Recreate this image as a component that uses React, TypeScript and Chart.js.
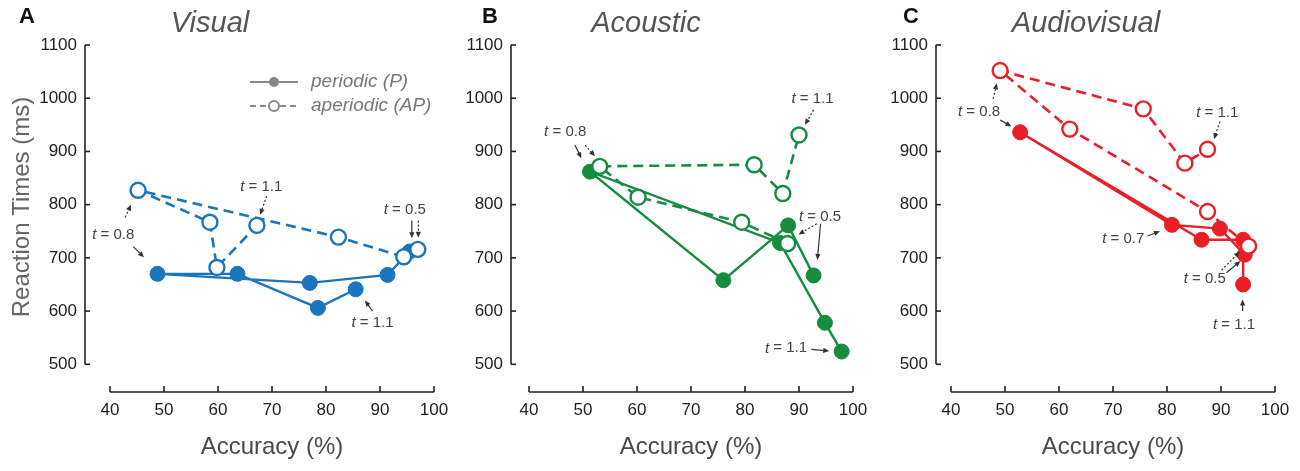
import React, { useEffect, useRef } from 'react';
import Chart from 'chart.js/auto';

const accuracyTicks = [40, 50, 60, 70, 80, 90, 100];
const rtTicks = [500, 600, 700, 800, 900, 1000, 1100];

// every series runs t = 0.5 ... 1.1
const visualPAcc = [95.5, 91.4, 77.0, 48.8, 63.6, 78.5, 85.5];
const visualPRt = [712, 668, 653, 670, 670, 606, 641];
const visualAPAcc = [97.0, 94.4, 82.3, 45.2, 58.5, 59.8, 67.2];
const visualAPRt = [716, 702, 739, 827, 767, 682, 761];

const acousticPAcc = [92.7, 88.0, 76.0, 51.3, 86.5, 94.8, 97.9];
const acousticPRt = [667, 761, 658, 862, 728, 578, 524];
const acousticAPAcc = [87.9, 79.4, 60.2, 53.1, 81.7, 87.0, 90.0];
const acousticAPRt = [727, 767, 814, 872, 875, 821, 931];

const avPAcc = [94.4, 89.8, 80.9, 52.8, 86.4, 94.1, 94.1];
const avPRt = [706, 755, 762, 936, 734, 734, 650];
const avAPAcc = [95.1, 87.5, 62.0, 49.1, 75.6, 83.3, 87.5];
const avAPRt = [722, 787, 942, 1052, 980, 878, 904];

type Arrow = { x1: number; y1: number; x2: number; y2: number; dotted: boolean };
type Note = { t: string; x: number; y: number; arrows: Arrow[] };

// "t = ..." labels, in data coordinates
const visualNotes: Note[] = [
  { t: '0.8', x: 40.6, y: 744, arrows: [
    { x1: 44.3, y1: 721, x2: 46.3, y2: 701, dotted: false },
    { x1: 42.8, y1: 776, x2: 43.9, y2: 800, dotted: true },
  ] },
  { t: '1.1', x: 68.0, y: 834, arrows: [{ x1: 69.0, y1: 816, x2: 67.8, y2: 781, dotted: true }] },
  { t: '0.5', x: 94.6, y: 790, arrows: [
    { x1: 95.9, y1: 770, x2: 95.9, y2: 737, dotted: false },
    { x1: 97.1, y1: 770, x2: 97.1, y2: 738, dotted: true },
  ] },
  { t: '1.1', x: 88.6, y: 577, arrows: [{ x1: 88.6, y1: 600, x2: 87.2, y2: 620, dotted: false }] },
];

const acousticNotes: Note[] = [
  { t: '0.8', x: 46.7, y: 936, arrows: [
    { x1: 48.5, y1: 912, x2: 49.7, y2: 887, dotted: false },
    { x1: 50.4, y1: 912, x2: 52.2, y2: 891, dotted: true },
  ] },
  { t: '1.1', x: 92.5, y: 999, arrows: [{ x1: 92.7, y1: 978, x2: 91.1, y2: 950, dotted: true }] },
  { t: '0.5', x: 93.9, y: 777, arrows: [
    { x1: 93.3, y1: 764, x2: 89.9, y2: 744, dotted: true },
    { x1: 94.0, y1: 764, x2: 93.4, y2: 696, dotted: false },
  ] },
  { t: '1.1', x: 87.6, y: 530, arrows: [{ x1: 92.3, y1: 528, x2: 95.6, y2: 525, dotted: false }] },
];

const avNotes: Note[] = [
  { t: '0.8', x: 45.2, y: 975, arrows: [
    { x1: 47.8, y1: 999, x2: 48.5, y2: 1028, dotted: true },
    { x1: 49.1, y1: 959, x2: 51.2, y2: 947, dotted: false },
  ] },
  { t: '1.1', x: 89.3, y: 972, arrows: [{ x1: 89.8, y1: 956, x2: 88.7, y2: 923, dotted: true }] },
  { t: '0.7', x: 71.9, y: 736, arrows: [{ x1: 76.4, y1: 741, x2: 78.7, y2: 750, dotted: false }] },
  { t: '0.5', x: 87.0, y: 661, arrows: [
    { x1: 90.1, y1: 677, x2: 93.5, y2: 712, dotted: true },
    { x1: 91.0, y1: 672, x2: 93.6, y2: 694, dotted: false },
  ] },
  { t: '1.1', x: 92.4, y: 575, arrows: [{ x1: 94.0, y1: 600, x2: 94.0, y2: 622, dotted: false }] },
];

const W = 1300;
const H = 471;
const FONT = "'Liberation Sans', Arial, sans-serif";
const Y1100 = 45;
const Y500 = 364.3;
const AXIS_Y = 392;

interface PanelDef {
  letter: string;
  title: string;
  color: string;
  pAcc: number[];
  pRt: number[];
  apAcc: number[];
  apRt: number[];
  notes: Note[];
  spineX: number;
  x40: number;
  x100: number;
  titleX: number;
  letterX: number;
  legend: boolean;
  yTitle: boolean;
}

const panels: PanelDef[] = [
  { letter: 'A', title: 'Visual', color: 'rgb(27,117,189)', pAcc: visualPAcc, pRt: visualPRt,
    apAcc: visualAPAcc, apRt: visualAPRt, notes: visualNotes, spineX: 85, x40: 110, x100: 434,
    titleX: 210, letterX: 19, legend: true, yTitle: true },
  { letter: 'B', title: 'Acoustic', color: 'rgb(22,140,62)', pAcc: acousticPAcc, pRt: acousticPRt,
    apAcc: acousticAPAcc, apRt: acousticAPRt, notes: acousticNotes, spineX: 511, x40: 529, x100: 853,
    titleX: 646, letterX: 482, legend: false, yTitle: false },
  { letter: 'C', title: 'Audiovisual', color: 'rgb(234,30,38)', pAcc: avPAcc, pRt: avPRt,
    apAcc: avAPAcc, apRt: avAPRt, notes: avNotes, spineX: 936, x40: 951, x100: 1275,
    titleX: 1086, letterX: 903, legend: false, yTitle: false },
];

function arrow(ctx: CanvasRenderingContext2D, x1: number, y1: number, x2: number, y2: number, dotted: boolean) {
  const a = Math.atan2(y2 - y1, x2 - x1);
  const hl = 6;
  ctx.save();
  ctx.strokeStyle = '#333';
  ctx.fillStyle = '#333';
  ctx.lineWidth = 1.2;
  ctx.setLineDash(dotted ? [2, 2] : []);
  ctx.beginPath();
  ctx.moveTo(x1, y1);
  ctx.lineTo(x2 - Math.cos(a) * hl * 0.7, y2 - Math.sin(a) * hl * 0.7);
  ctx.stroke();
  ctx.setLineDash([]);
  ctx.beginPath();
  ctx.moveTo(x2, y2);
  ctx.lineTo(x2 - hl * Math.cos(a) + 2.6 * Math.sin(a), y2 - hl * Math.sin(a) - 2.6 * Math.cos(a));
  ctx.lineTo(x2 - hl * Math.cos(a) - 2.6 * Math.sin(a), y2 - hl * Math.sin(a) + 2.6 * Math.cos(a));
  ctx.closePath();
  ctx.fill();
  ctx.restore();
}

function decor(p: PanelDef) {
  return {
    id: 'decor' + p.letter,
    afterDraw(chart: Chart) {
      const ctx = chart.ctx;
      const xs = chart.scales.x;
      const ys = chart.scales.y;
      const X = (v: number) => xs.getPixelForValue(v);
      const Y = (v: number) => ys.getPixelForValue(v);
      const left = chart.chartArea.left;
      const bottom = chart.chartArea.bottom;
      ctx.save();

      // detached spines with inward ticks
      ctx.strokeStyle = '#222';
      ctx.lineWidth = 1.6;
      ctx.beginPath();
      ctx.moveTo(left, Y(rtTicks[0]));
      ctx.lineTo(left, Y(rtTicks[rtTicks.length - 1]));
      ctx.stroke();
      rtTicks.forEach((v) => {
        ctx.beginPath();
        ctx.moveTo(left, Y(v));
        ctx.lineTo(left + 5, Y(v));
        ctx.stroke();
      });
      ctx.beginPath();
      ctx.moveTo(X(accuracyTicks[0]), bottom);
      ctx.lineTo(X(accuracyTicks[accuracyTicks.length - 1]), bottom);
      ctx.stroke();
      accuracyTicks.forEach((v) => {
        ctx.beginPath();
        ctx.moveTo(X(v), bottom);
        ctx.lineTo(X(v), bottom - 6);
        ctx.stroke();
      });

      // panel letter and title
      ctx.fillStyle = '#111';
      ctx.font = `bold 22px ${FONT}`;
      ctx.textAlign = 'left';
      ctx.textBaseline = 'alphabetic';
      ctx.fillText(p.letter, p.letterX, 23);
      ctx.fillStyle = '#555';
      ctx.font = `italic 29px ${FONT}`;
      ctx.textAlign = 'center';
      ctx.fillText(p.title, p.titleX, 32);

      // axis titles
      ctx.fillStyle = '#4a4a4a';
      ctx.font = `24px ${FONT}`;
      ctx.fillText('Accuracy (%)', (X(40) + X(100)) / 2, 454);
      if (p.yTitle) {
        ctx.save();
        ctx.translate(22, 207);
        ctx.rotate(-Math.PI / 2);
        ctx.fillStyle = '#666';
        ctx.textBaseline = 'middle';
        ctx.fillText('Reaction Times (ms)', 0, 0);
        ctx.restore();
      }

      // legend
      if (p.legend) {
        const lx1 = 250, lx2 = 298, cx = 274;
        ctx.strokeStyle = '#888';
        ctx.lineWidth = 2;
        ctx.beginPath();
        ctx.moveTo(lx1, 82);
        ctx.lineTo(lx2, 82);
        ctx.stroke();
        ctx.fillStyle = '#888';
        ctx.beginPath();
        ctx.arc(cx, 82, 5, 0, Math.PI * 2);
        ctx.fill();
        ctx.setLineDash([6, 4]);
        ctx.beginPath();
        ctx.moveTo(lx1, 106);
        ctx.lineTo(lx2, 106);
        ctx.stroke();
        ctx.setLineDash([]);
        ctx.fillStyle = '#fff';
        ctx.beginPath();
        ctx.arc(cx, 106, 5, 0, Math.PI * 2);
        ctx.fill();
        ctx.stroke();
        ctx.fillStyle = '#777';
        ctx.font = `italic 19px ${FONT}`;
        ctx.textAlign = 'left';
        ctx.textBaseline = 'middle';
        ctx.fillText('periodic (P)', 311, 82);
        ctx.fillText('aperiodic (AP)', 311, 106);
      }

      // t annotations
      p.notes.forEach((n) => {
        const cx = X(n.x);
        const cy = Y(n.y);
        const rest = ' = ' + n.t;
        ctx.font = `italic 15px ${FONT}`;
        const wt = ctx.measureText('t').width;
        ctx.font = `15px ${FONT}`;
        const wr = ctx.measureText(rest).width;
        const sx = cx - (wt + wr) / 2;
        ctx.fillStyle = '#444';
        ctx.textAlign = 'left';
        ctx.textBaseline = 'middle';
        ctx.font = `italic 15px ${FONT}`;
        ctx.fillText('t', sx, cy);
        ctx.font = `15px ${FONT}`;
        ctx.fillText(rest, sx + wt, cy);
        n.arrows.forEach((a) => arrow(ctx, X(a.x1), Y(a.y1), X(a.x2), Y(a.y2), a.dotted));
      });

      ctx.restore();
    },
  };
}

const Panel: React.FC<{ p: PanelDef }> = ({ p }) => {
  const canvasRef = useRef<HTMLCanvasElement>(null);
  const chartRef = useRef<Chart>();

  useEffect(() => {
    if (!canvasRef.current) return;
    const ctx = canvasRef.current.getContext('2d');
    if (!ctx) return;
    if (chartRef.current) chartRef.current.destroy();

    const pxPerUnit = (p.x100 - p.x40) / 60;
    const xMin = 40 - (p.x40 - p.spineX) / pxPerUnit;
    const pxPerMs = (Y500 - Y1100) / 600;
    const yMin = 500 - (AXIS_Y - Y500) / pxPerMs;
    const yAxisWidth = 60;
    const xAxisHeight = 50;

    chartRef.current = new Chart(ctx, {
      type: 'scatter',
      data: {
        datasets: [
          {
            label: 'aperiodic (AP)',
            data: p.apAcc.map((x, i) => ({ x, y: p.apRt[i] })),
            showLine: true,
            borderColor: p.color,
            borderWidth: 2.6,
            borderDash: [10, 6],
            pointRadius: 7.5,
            pointBorderWidth: 2.4,
            pointBackgroundColor: '#fff',
            pointBorderColor: p.color,
          },
          {
            label: 'periodic (P)',
            data: p.pAcc.map((x, i) => ({ x, y: p.pRt[i] })),
            showLine: true,
            borderColor: p.color,
            borderWidth: 2.4,
            pointRadius: 7.5,
            pointBorderWidth: 1,
            pointBackgroundColor: p.color,
            pointBorderColor: p.color,
          },
        ],
      },
      options: {
        responsive: false,
        animation: false,
        layout: {
          padding: {
            left: p.spineX - yAxisWidth,
            right: W - p.x100,
            top: Y1100,
            bottom: H - AXIS_Y - xAxisHeight,
          },
        },
        plugins: { legend: { display: false }, tooltip: { enabled: false } },
        scales: {
          x: {
            type: 'linear',
            min: xMin,
            max: 100,
            grid: { display: false, drawTicks: false },
            border: { display: false },
            afterBuildTicks: (scale: any) => {
              scale.ticks = accuracyTicks.map((v) => ({ value: v }));
            },
            afterFit: (scale: any) => {
              scale.height = xAxisHeight;
            },
            ticks: {
              color: '#222', padding: 8, font: { family: FONT, size: 17 }, maxRotation: 0, autoSkip: false,
              callback: (v: any) => String(v),
            },
          },
          y: {
            type: 'linear',
            min: yMin,
            max: 1100,
            grid: { display: false, drawTicks: false },
            border: { display: false },
            afterBuildTicks: (scale: any) => {
              scale.ticks = rtTicks.map((v) => ({ value: v }));
            },
            afterFit: (scale: any) => {
              scale.width = yAxisWidth;
            },
            ticks: {
              color: '#222', padding: 8, font: { family: FONT, size: 17 }, autoSkip: false,
              callback: (v: any) => String(v),
            },
          },
        },
      },
      plugins: [decor(p)],
    });

    return () => {
      if (chartRef.current) {
        chartRef.current.destroy();
        chartRef.current = undefined;
      }
    };
  }, [p]);

  return (
    <canvas
      ref={canvasRef}
      width={W}
      height={H}
      style={{ position: 'absolute', left: 0, top: 0, width: W, height: H }}
    />
  );
};

const App: React.FC = () => {
  return (
    <div style={{ position: 'absolute', left: 0, top: 0, width: W, height: H, background: '#fff' }}>
      {panels.map((p) => (
        <Panel key={p.letter} p={p} />
      ))}
    </div>
  );
};

export default App;
